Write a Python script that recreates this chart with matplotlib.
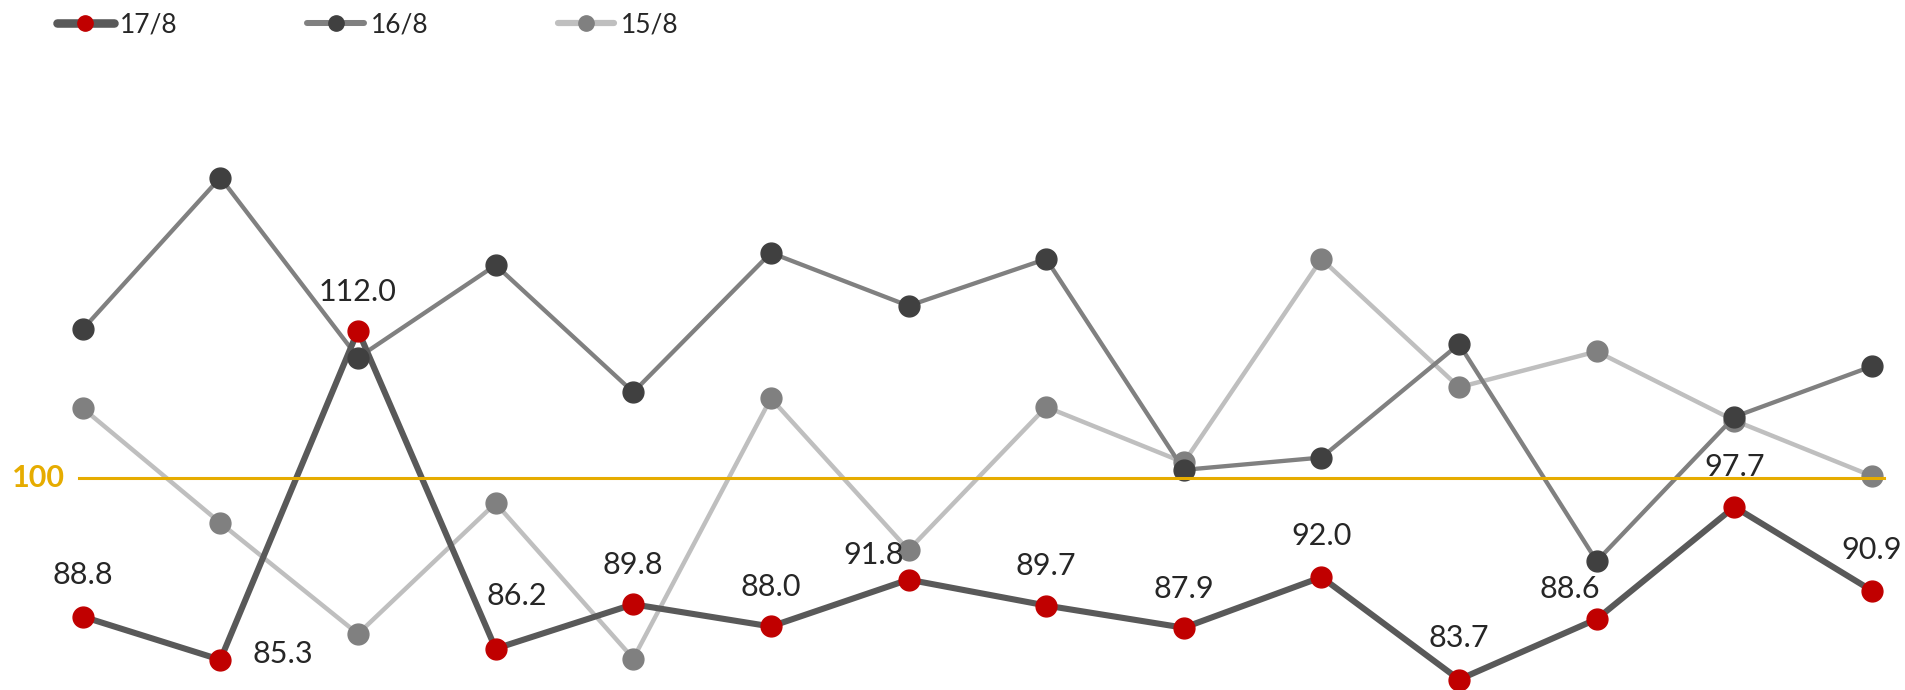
import matplotlib
matplotlib.use("Agg")
import matplotlib.pyplot as plt
import numpy as np

plt.rcParams['font.family'] = ['Lato', 'DejaVu Sans']

# daily series, 14 points each
days = ['17/8', '16/8', '15/8']
s17 = [88.8, 85.3, 112.0, 86.2, 89.8, 88.0, 91.8, 89.7, 87.9, 92.0, 83.7, 88.6, 97.7, 90.9]
s16 = [112.1, 124.4, 109.8, 117.3, 107.0, 118.3, 114.0, 117.8, 100.7, 101.7, 110.9, 93.3, 105.0, 109.1]
s15 = [105.7, 96.4, 87.4, 98.0, 85.4, 106.5, 94.2, 105.8, 101.3, 117.8, 107.4, 110.3, 104.7, 100.2]
target = 100

x = np.arange(len(s17))

# label offsets for 17/8 (pixels, x right / y up)
lab_off = [(0, 42), (62, 6), (0, 39), (21, 53), (0, 39), (0, 39), (-35, 25),
           (0, 40), (0, 39), (0, 41), (0, 42), (-27, 30), (0, 40), (0, 41)]

fig = plt.figure(figsize=(19.06, 6.9), dpi=100)
ax = fig.add_axes([0, 0, 1, 1])
ax.set_xlim(-0.601, 13.247)
ax.set_ylim(82.85, 138.8)
ax.axis('off')

styles = [
    (s15, '#bfbfbf', '#808080', 3.2),
    (s16, '#808080', '#404040', 3.1),
    (s17, '#595959', '#c00000', 4.4),
]
# lines first, markers on top of all lines
for vals, lc, mc, lw in styles:
    ax.plot(x, vals, color=lc, lw=lw, solid_capstyle='round', zorder=2)
for vals, lc, mc, lw in styles:
    ax.plot(x, vals, ls='none', marker='o', ms=15, color=mc, mec=mc, zorder=3)

for xi, v, (dx, dy) in zip(x, s17, lab_off):
    ax.annotate(f'{v:.1f}', (xi, v), xytext=(dx * 0.72, dy * 0.72),
                textcoords='offset points', ha='center', va='center',
                fontsize=22, color='#262626', zorder=6)

# reference line at 100
gold = '#e6ac00'
ax.axhline(target, xmin=0.0414, xmax=0.9885, color=gold, lw=2.2, zorder=5)
ax.annotate(str(target), (0, target), xytext=(-32, 0), textcoords='offset points',
            ha='center', va='center', fontsize=22, fontweight='bold', color=gold)

# legend
handles = []
for vals, lc, mc, lw in styles[::-1]:
    h, = ax.plot([], [], color=lc, lw=lw * 1.4, marker='o', ms=11, mfc=mc, mec=mc,
                 solid_capstyle='round')
    handles.append(h)
fig.legend(handles, days, loc='upper left', bbox_to_anchor=(57 / 1906, 1 - 12 / 690),
           ncol=3, frameon=False, fontsize=19, handlelength=2.15, handletextpad=0.25,
           columnspacing=4.9, borderpad=0, borderaxespad=0, labelcolor='#262626')

fig.savefig('out.png', dpi=100)
